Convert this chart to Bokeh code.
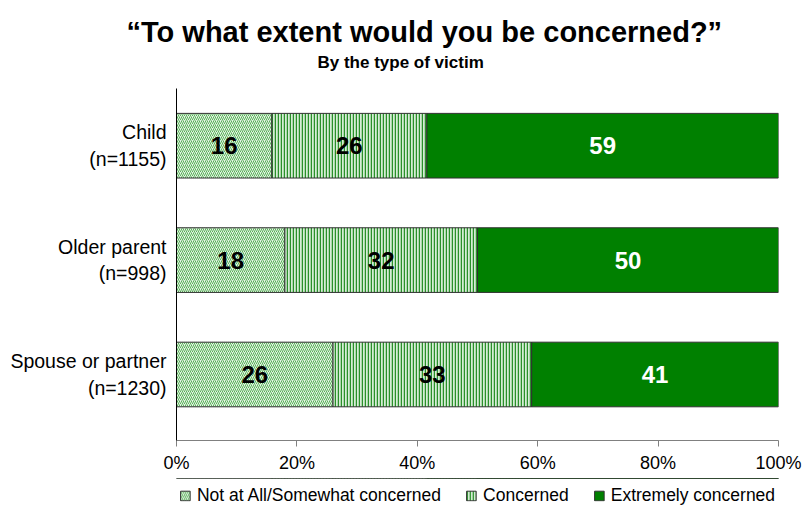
import numpy as np
from bokeh.plotting import figure
from bokeh.layouts import column
from bokeh.models import (ColumnDataSource, Range1d, FixedTicker, PrintfTickFormatter,
                          Title, Legend, LegendItem)
from bokeh.embed import file_html
from bokeh.resources import INLINE
from bokeh.core.properties import value

# ---- data ----
groups = ["Child", "Older parent", "Spouse or partner"]
sample_sizes = ["(n=1155)", "(n=998)", "(n=1230)"]
series = ["Not at All/Somewhat concerned", "Concerned", "Extremely concerned"]
not_at_all = [16, 18, 26]
concerned = [26, 32, 33]
extremely = [59, 50, 41]
x_ticks = [0, 20, 40, 60, 80, 100]

title_text = "\u201cTo what extent would you be concerned?\u201d"
subtitle_text = "By the type of victim"

# ---- styles ----
FONT = "Liberation Sans"
fills = ["#e4f3e4", "#d6edd6", "#008000"]
hatch_patterns = ["right_diagonal_line", "vertical_line", None]
hatch_colors = ["#58b058", "#2a902a", None]
hatch_scales = [4.0, 3.0, None]
hatch_weights = [1.0, 1.5, None]
label_colors = ["black", "black", "white"]

vals = np.array([not_at_all, concerned, extremely], dtype=float)
shares = vals / vals.sum(axis=0) * 100.0
rights = np.cumsum(shares, axis=0)
lefts = rights - shares
n = len(groups)
ypos = [n - 1 - i for i in range(n)]


def bar_style(k):
    kw = dict(fill_color=fills[k], line_color="#303030", line_width=1)
    if hatch_patterns[k]:
        kw.update(hatch_pattern=hatch_patterns[k], hatch_color=hatch_colors[k],
                  hatch_scale=hatch_scales[k], hatch_weight=hatch_weights[k])
    return kw


p = figure(width=806, height=478, output_backend="svg", toolbar_location=None,
           x_range=Range1d(0, 100), y_range=Range1d(-0.577, 2.5),
           min_border_left=176, min_border_right=28, min_border_top=88,
           min_border_bottom=38, outline_line_color=None, background_fill_color="white")
p.grid.visible = False

sources = []
for k in range(3):
    src = ColumnDataSource(dict(y=ypos, left=lefts[k], right=rights[k],
                                mid=(lefts[k] + rights[k]) / 2,
                                txt=[str(v) for v in vals[k].astype(int)]))
    sources.append(src)
    p.hbar(y="y", left="left", right="right", height=0.565, source=src, **bar_style(k))
    p.text(x="mid", y="y", text="txt", source=src, text_align="center",
           text_baseline="middle", text_font=value(FONT), text_font_style="bold",
           text_font_size="24px", text_color=label_colors[k])

# axes
for ax in (p.xaxis, p.yaxis):
    ax.axis_label = None
    ax.axis_label_standoff = 0

p.xaxis.ticker = FixedTicker(ticks=x_ticks)
p.xaxis.formatter = PrintfTickFormatter(format="%d%%")
p.xaxis.axis_line_color = "#808080"
p.xaxis.major_tick_line_color = "#808080"
p.xaxis.major_tick_out = 6
p.xaxis.major_tick_in = 0
p.xaxis.minor_tick_line_color = None
p.xaxis.minor_tick_out = 0
p.xaxis.major_label_text_font = FONT
p.xaxis.major_label_text_font_size = "18px"
p.xaxis.major_label_text_color = "black"
p.xaxis.major_label_standoff = 6

p.yaxis.ticker = FixedTicker(ticks=ypos)
p.yaxis.major_label_overrides = {ypos[i]: groups[i] + "\n" + sample_sizes[i] for i in range(n)}
p.yaxis.axis_line_color = "black"
p.yaxis.major_tick_line_color = None
p.yaxis.major_tick_out = 0
p.yaxis.major_tick_in = 0
p.yaxis.minor_tick_line_color = None
p.yaxis.minor_tick_out = 0
p.yaxis.major_label_text_font = FONT
p.yaxis.major_label_text_font_size = "19.5px"
p.yaxis.major_label_text_color = "black"
p.yaxis.major_label_standoff = 10
p.yaxis.major_label_text_align = "right"

# titles
p.title.text = title_text
p.title.text_font = FONT
p.title.text_font_style = "bold"
p.title.text_font_size = "29px"
p.title.text_color = "black"
p.title.align = "left"
p.title.offset = -50
p.title.standoff = -20
sub = Title(text=subtitle_text, text_font=FONT, text_font_style="bold",
            text_font_size="17px", text_color="black", align="left", offset=141,
            vertical_align="top", standoff=30)
p.add_layout(sub, "above")

# legend strip: a small figure whose bars fall outside its view, holding only the legend
lg = figure(width=806, height=34, output_backend="svg", toolbar_location=None,
            x_range=Range1d(0, 100), y_range=Range1d(-20, -19), x_axis_type=None,
            y_axis_type=None, min_border=0, outline_line_color=None)
lg.grid.visible = False
leg_renderers = []
for k in range(3):
    leg_renderers.append(lg.hbar(y="y", left="left", right="right", height=0.565,
                                 source=sources[k], **bar_style(k)))
legend = Legend(items=[LegendItem(label=series[k], renderers=[leg_renderers[k]]) for k in range(3)],
                orientation="horizontal", location="center", border_line_color=None,
                background_fill_alpha=0, glyph_width=12, glyph_height=12,
                label_standoff=6, spacing=24, padding=0, margin=0,
                label_text_font=FONT, label_text_font_size="17.5px",
                label_text_color="black")
lg.add_layout(legend, "center")

layout = column(p, lg, spacing=0)
open("out.html", "w").write(file_html(layout, INLINE))
